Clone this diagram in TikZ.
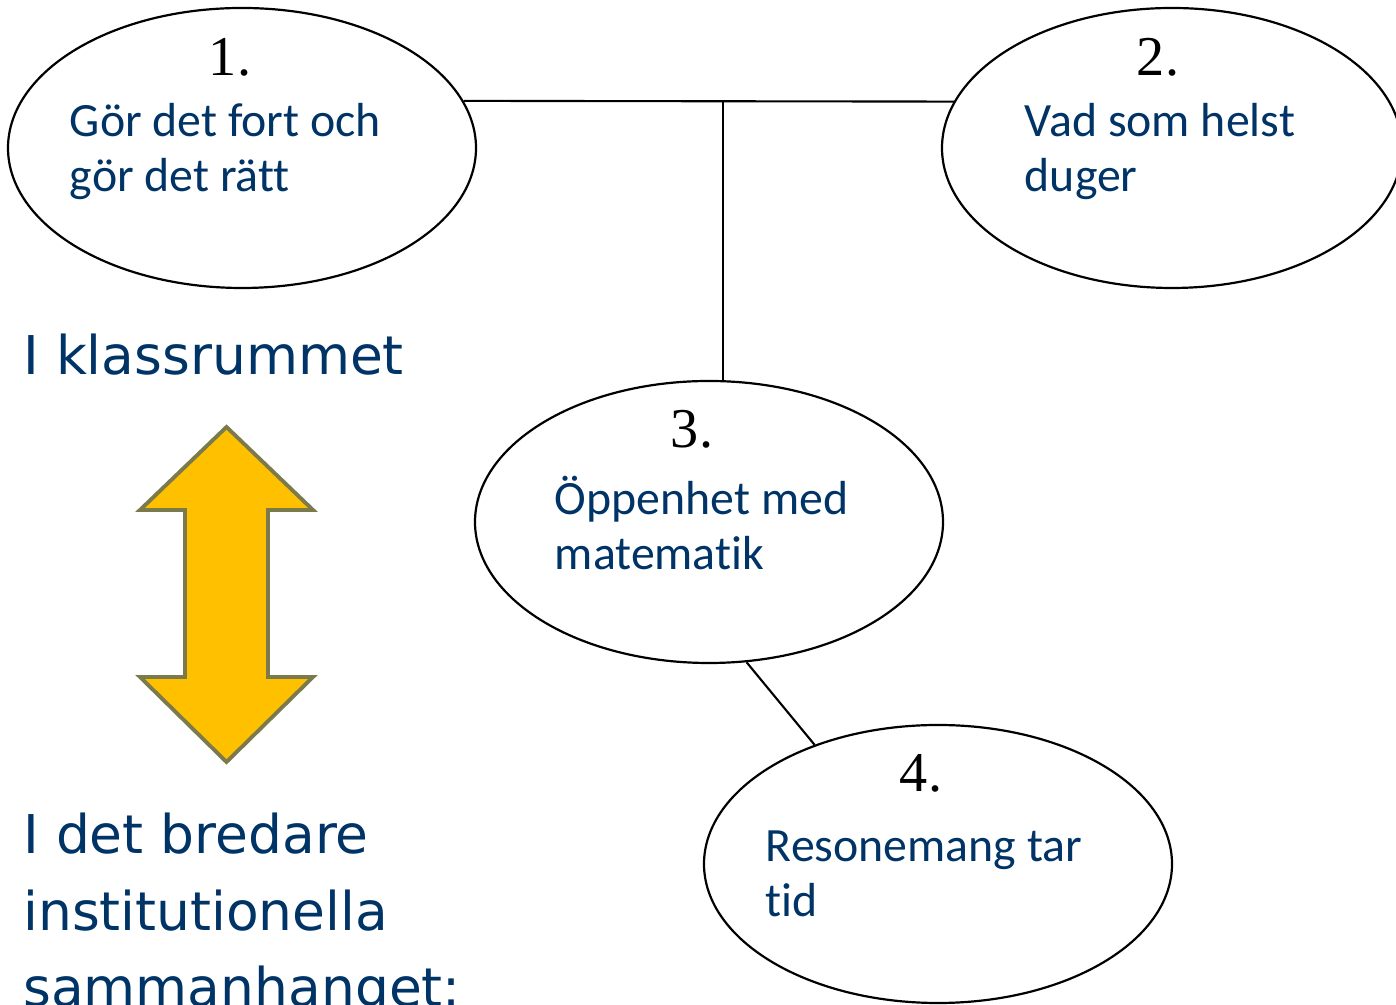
\documentclass[tikz,border=0pt]{standalone}
\usepackage{fontspec}
\setmainfont{Liberation Serif}
\newfontfamily\bubblefont[Ligatures=NoCommon]{Carlito}
\newfontfamily\sidefont{DejaVu Sans}
\definecolor{textblue}{RGB}{0, 51, 102}
\definecolor{arrowgold}{RGB}{255, 192, 0}
\definecolor{arrowolive}{RGB}{122, 122, 74}
\usetikzlibrary{shapes.geometric, positioning, calc}

\tikzset{
  bubble/.style={draw=black, line width=1.25pt, ellipse, minimum width=9.36cm, minimum height=5.6cm, inner sep=0pt},
  bubblenum/.style={anchor=base, inner sep=0pt, font=\fontsize{32}{36}\selectfont},
  bubbletext/.style={anchor=base west, inner sep=0pt, align=left, text=textblue, font=\bubblefont\fontsize{27.2}{31.3}\selectfont},
  sidetext/.style={anchor=base west, inner sep=0pt, align=left, text=textblue, font=\sidefont\fontsize{30.4}{43.8}\selectfont},
  link/.style={draw=black, line width=1.2pt},
  updown/.style={fill=arrowgold, draw=arrowolive, line width=2.2pt, line join=miter},
}

\begin{document}
\begin{tikzpicture}
  \useasboundingbox (0,0) rectangle (27.92,20.1);
  \clip (0,0) rectangle (27.92,20.1);

  % Bubbles
  \node[bubble] (e1) at (4.84, 17.14) {};
  \node[bubble, minimum width=9.2cm] (e2) at (23.44, 17.14) {};
  \node[bubble, minimum height=5.64cm] (e3) at (14.18, 9.66) {};
  \node[bubble, minimum height=5.56cm] (e4) at (18.76, 2.82) {};

  % Numbers
  \node[bubblenum] (n1) at (4.6, 18.58) {1.};
  \node[bubblenum] (n2) at (23.16, 18.58) {2.};
  \node[bubblenum] (n3) at (13.84, 11.14) {3.};
  \node[bubblenum] (n4) at (18.42, 4.26) {4.};

  % Bubble texts (base = last line)
  \node[bubbletext] (t1) at (1.39, 16.26) {Gör det fort och\\gör det rätt};
  \node[bubbletext] (t2) at (20.49, 16.26) {Vad som helst\\duger};
  \node[bubbletext] (t3) at (11.09, 8.7) {Öppenhet med\\matematik};
  \node[bubbletext] (t4) at (15.31, 1.76) {Resonemang tar\\tid};

  % Connectors
  \coordinate (junction) at (14.46, 18.08);
  \draw[link] (e1.12) -- (e2.168);
  \draw[link] (junction) -- (junction |- e3.north);
  \draw[link] (e3.-75) -- (e4.136);

  % Side texts
  \node[sidetext] (room) at (0.46, 12.6) {I klassrummet};
  \node[sidetext] (wider) at (0.46, -0.04) {I det bredare\\institutionella\\sammanhanget:};

  % Double arrow
  \draw[updown] (4.53,11.56) -- (6.26,9.9) -- (5.36,9.9) -- (5.36,6.56) -- (6.26,6.56)
    -- (4.53,4.86) -- (2.8,6.56) -- (3.7,6.56) -- (3.7,9.9) -- (2.8,9.9) -- cycle;
\end{tikzpicture}
\end{document}
